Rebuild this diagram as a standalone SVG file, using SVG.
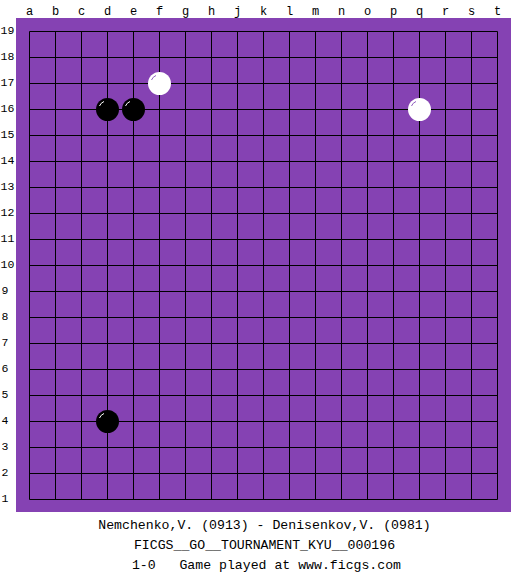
<svg xmlns="http://www.w3.org/2000/svg" width="525" height="575" viewBox="0 0 525 575">
<style>
text{font-family:"Liberation Mono","DejaVu Sans Mono",monospace;fill:#000}
.lbl{font-size:12px}
.rl{font-size:11.5px}
.info{font-size:13.2px;text-anchor:middle;white-space:pre}
.grid line{stroke:#000;stroke-width:1}
.black{fill:#000}
.white{fill:#fff}
.hlb{fill:none;stroke:#fff;stroke-width:1}
.hlw{fill:none;stroke:#9060c0;stroke-width:1}
</style>
<rect width="525" height="575" fill="#fff"/>
<rect id="board" x="16" y="18" width="495" height="494" fill="#8542b3"/>
<g id="columns" class="lbl" text-anchor="middle">
<text x="29.5" y="15">a</text><text x="55.5" y="15">b</text><text x="81.5" y="15">c</text><text x="107.5" y="15">d</text><text x="133.5" y="15">e</text><text x="159.5" y="15">f</text><text x="185.5" y="15">g</text><text x="211.5" y="15">h</text><text x="237.5" y="15">j</text><text x="263.5" y="15">k</text><text x="289.5" y="15">l</text><text x="315.5" y="15">m</text><text x="341.5" y="15">n</text><text x="367.5" y="15">o</text><text x="393.5" y="15">p</text><text x="419.5" y="15">q</text><text x="445.5" y="15">r</text><text x="471.5" y="15">s</text><text x="497.5" y="15">t</text>
</g>
<g id="rows" class="rl">
<text x="0.5" y="34">19</text><text x="0.5" y="60">18</text><text x="0.5" y="86">17</text><text x="0.5" y="112">16</text><text x="0.5" y="138">15</text><text x="0.5" y="164">14</text><text x="0.5" y="190">13</text><text x="0.5" y="216">12</text><text x="0.5" y="242">11</text><text x="0.5" y="268">10</text><text x="1.5" y="294">9</text><text x="1.5" y="320">8</text><text x="1.5" y="346">7</text><text x="1.5" y="372">6</text><text x="1.5" y="398">5</text><text x="1.5" y="424">4</text><text x="1.5" y="450">3</text><text x="1.5" y="476">2</text><text x="1.5" y="502">1</text>
</g>
<g id="grid" class="grid">
<line x1="29.5" y1="31.5" x2="29.5" y2="499.5"/><line x1="55.5" y1="31.5" x2="55.5" y2="499.5"/><line x1="81.5" y1="31.5" x2="81.5" y2="499.5"/><line x1="107.5" y1="31.5" x2="107.5" y2="499.5"/><line x1="133.5" y1="31.5" x2="133.5" y2="499.5"/><line x1="159.5" y1="31.5" x2="159.5" y2="499.5"/><line x1="185.5" y1="31.5" x2="185.5" y2="499.5"/><line x1="211.5" y1="31.5" x2="211.5" y2="499.5"/><line x1="237.5" y1="31.5" x2="237.5" y2="499.5"/><line x1="263.5" y1="31.5" x2="263.5" y2="499.5"/><line x1="289.5" y1="31.5" x2="289.5" y2="499.5"/><line x1="315.5" y1="31.5" x2="315.5" y2="499.5"/><line x1="341.5" y1="31.5" x2="341.5" y2="499.5"/><line x1="367.5" y1="31.5" x2="367.5" y2="499.5"/><line x1="393.5" y1="31.5" x2="393.5" y2="499.5"/><line x1="419.5" y1="31.5" x2="419.5" y2="499.5"/><line x1="445.5" y1="31.5" x2="445.5" y2="499.5"/><line x1="471.5" y1="31.5" x2="471.5" y2="499.5"/><line x1="497.5" y1="31.5" x2="497.5" y2="499.5"/>
<line x1="29.5" y1="31.5" x2="497.5" y2="31.5"/><line x1="29.5" y1="57.5" x2="497.5" y2="57.5"/><line x1="29.5" y1="83.5" x2="497.5" y2="83.5"/><line x1="29.5" y1="109.5" x2="497.5" y2="109.5"/><line x1="29.5" y1="135.5" x2="497.5" y2="135.5"/><line x1="29.5" y1="161.5" x2="497.5" y2="161.5"/><line x1="29.5" y1="187.5" x2="497.5" y2="187.5"/><line x1="29.5" y1="213.5" x2="497.5" y2="213.5"/><line x1="29.5" y1="239.5" x2="497.5" y2="239.5"/><line x1="29.5" y1="265.5" x2="497.5" y2="265.5"/><line x1="29.5" y1="291.5" x2="497.5" y2="291.5"/><line x1="29.5" y1="317.5" x2="497.5" y2="317.5"/><line x1="29.5" y1="343.5" x2="497.5" y2="343.5"/><line x1="29.5" y1="369.5" x2="497.5" y2="369.5"/><line x1="29.5" y1="395.5" x2="497.5" y2="395.5"/><line x1="29.5" y1="421.5" x2="497.5" y2="421.5"/><line x1="29.5" y1="447.5" x2="497.5" y2="447.5"/><line x1="29.5" y1="473.5" x2="497.5" y2="473.5"/><line x1="29.5" y1="499.5" x2="497.5" y2="499.5"/>
</g>
<g id="stone-d16"><circle class="black" cx="107.5" cy="109.5" r="11.5"/><path class="hlb" d="M99.5,106 A8,8 0 0 1 104,101.5"/></g>
<g id="stone-e16"><circle class="black" cx="133.5" cy="109.5" r="11.5"/><path class="hlb" d="M125.5,106 A8,8 0 0 1 130,101.5"/></g>
<g id="stone-d4"><circle class="black" cx="107.5" cy="421.5" r="11.5"/><path class="hlb" d="M99.5,418 A8,8 0 0 1 104,413.5"/></g>
<g id="stone-f17"><circle class="white" cx="159.5" cy="83.5" r="11.5"/><path class="hlw" d="M151.5,80 A8,8 0 0 1 156,75.5"/></g>
<g id="stone-q16"><circle class="white" cx="419.5" cy="109.5" r="11.5"/><path class="hlw" d="M411.5,106 A8,8 0 0 1 416,101.5"/></g>
<g id="info" class="info">
<text x="264.5" y="529">Nemchenko,V. (0913) - Denisenkov,V. (0981)</text>
<text x="264.5" y="549">FICGS__GO__TOURNAMENT_KYU__000196</text>
<text x="266.5" y="569" xml:space="preserve">1-0   Game played at www.ficgs.com</text>
</g>
</svg>
